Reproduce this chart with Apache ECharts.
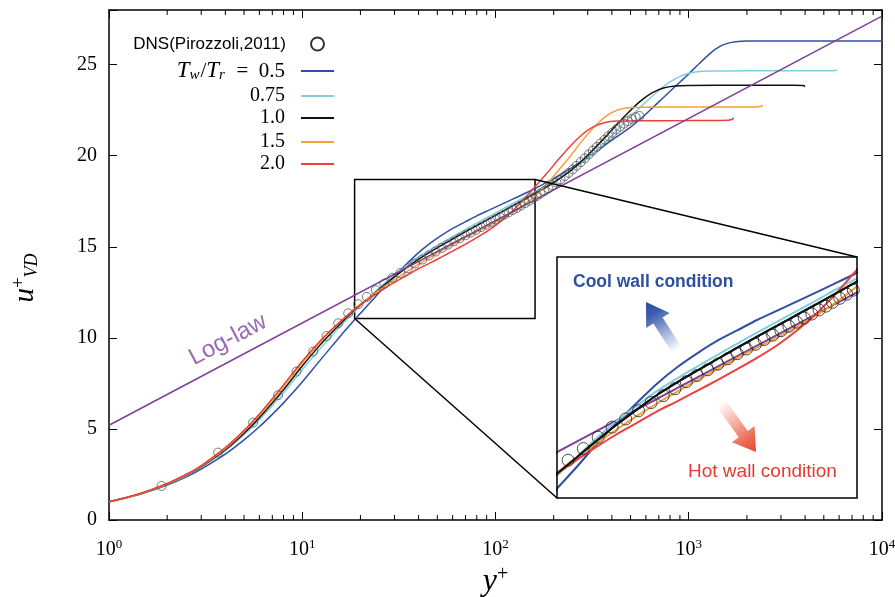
<!DOCTYPE html>
<html><head><meta charset="utf-8">
<script src="https://cdn.jsdelivr.net/npm/echarts@6/dist/echarts.min.js"></script>
<style>html,body{margin:0;padding:0;background:#fff;}#c{width:895px;height:597px;}</style>
</head><body><div id="c"></div>
<script>
// ---------------- data ----------------
const xTickExponents = [0, 1, 2, 3, 4];
const yTickLabels = [0, 5, 10, 15, 20, 25];
const minorTickValues = [2,3,4,5,6,7,8,9,20,30,40,50,60,70,80,90,200,300,400,500,600,700,800,900,2000,3000,4000,5000,6000,7000,8000,9000];

const dnsData = [[1.87,1.87],[3.67,3.7],[5.57,5.35],[7.5,6.85],[9.34,8.15],[11.39,9.25],[13.36,10.1],[15.35,10.8],[17.29,11.35],[19.48,11.85],[21.6,12.25],[24.0,12.62],[26.6,12.98],[29.3,13.3],[32.2,13.56],[35.2,13.82],[38.4,14.08],[41.8,14.3],[45.3,14.52],[49.0,14.74],[52.8,14.94],[56.8,15.12],[61.0,15.3],[65.3,15.47],[69.8,15.63],[74.4,15.78],[79.2,15.93],[84.1,16.08],[89.2,16.22],[94.4,16.36],[99.8,16.5],[105.3,16.63],[111,16.76],[117,16.89],[123,17.02],[129,17.14],[135,17.26],[142,17.39],[149,17.52],[156,17.65],[163,17.78],[171,17.92],[179,18.06],[188,18.21],[197,18.37],[207,18.53],[217,18.7],[228,18.88],[239,19.06],[251,19.25],[263,19.45],[276,19.65],[290,19.86],[304,20.07],[319,20.28],[334,20.48],[350,20.68],[367,20.88],[384,21.07],[402,21.26],[421,21.44],[441,21.6],[462,21.76],[484,21.9],[507,22.02],[531,22.12],[556,22.18]];

const tw05 = [[1,1],[1.25,1.23],[1.5,1.46],[2,1.92],[2.5,2.36],[3,2.8],[4,3.62],[5,4.4],[6,5.12],[7,5.8],[8,6.43],[10,7.58],[12,8.6],[14,9.45],[16,10.18],[18,10.8],[20,11.35],[23,12.05],[26,12.7],[30,13.4],[35,14.1],[40,14.68],[46,15.2],[53,15.65],[61,16.05],[70,16.38],[80,16.7],[92,17.0],[106,17.3],[122,17.6],[140,17.9],[160,18.2],[185,18.55],[212,18.9],[245,19.3],[280,19.7],[320,20.1],[370,20.6],[425,21.05],[490,21.5],[560,22.0],[645,22.6],[740,23.2],[850,23.8],[980,24.4],[1130,25.05],[1300,25.65],[1450,26.0],[1600,26.18],[1750,26.26],[2000,26.3],[10000,26.3]];

const tw075 = [[1,1],[1.25,1.24],[1.5,1.48],[2,1.96],[2.5,2.43],[3,2.89],[4,3.8],[5,4.68],[6,5.5],[7,6.27],[8,6.98],[10,8.25],[12,9.25],[14,10.05],[16,10.72],[18,11.28],[20,11.76],[23,12.36],[26,12.9],[30,13.46],[35,14.0],[40,14.45],[46,14.85],[53,15.23],[61,15.6],[70,15.96],[80,16.3],[92,16.65],[106,17.0],[122,17.35],[140,17.7],[160,18.02],[185,18.38],[212,18.75],[245,19.18],[280,19.62],[320,20.1],[370,20.72],[425,21.4],[490,22.05],[560,22.65],[645,23.25],[740,23.8],[850,24.22],[980,24.5],[1130,24.62],[1300,24.65],[2000,24.66],[4000,24.66],[5600,24.66],[5850,24.72]];

const tw10 = [[1,1],[1.25,1.25],[1.5,1.49],[2,1.98],[2.5,2.46],[3,2.93],[4,3.86],[5,4.77],[6,5.62],[7,6.42],[8,7.15],[10,8.45],[12,9.45],[14,10.22],[16,10.85],[18,11.38],[20,11.82],[23,12.35],[26,12.82],[30,13.35],[35,13.88],[40,14.32],[46,14.72],[53,15.1],[61,15.47],[70,15.83],[80,16.17],[92,16.52],[106,16.88],[122,17.23],[140,17.58],[160,17.92],[185,18.3],[212,18.7],[245,19.18],[280,19.72],[320,20.32],[370,21.02],[425,21.72],[490,22.4],[560,22.98],[645,23.45],[740,23.72],[850,23.83],[1000,23.86],[2000,23.87],[3500,23.87],[3900,23.85],[4000,23.8]];

const tw15 = [[1,1],[1.25,1.25],[1.5,1.5],[2,1.99],[2.5,2.48],[3,2.96],[4,3.92],[5,4.86],[6,5.75],[7,6.58],[8,7.32],[10,8.62],[12,9.6],[14,10.35],[16,10.95],[18,11.44],[20,11.85],[23,12.35],[26,12.75],[30,13.2],[35,13.67],[40,14.05],[46,14.43],[53,14.8],[61,15.15],[70,15.5],[80,15.82],[92,16.15],[106,16.5],[122,16.88],[140,17.3],[160,17.78],[185,18.45],[212,19.2],[245,20.0],[280,20.8],[320,21.52],[370,22.15],[425,22.5],[490,22.63],[560,22.66],[1000,22.67],[2000,22.67],[2350,22.7],[2410,22.78]];

const tw20 = [[1,1],[1.25,1.26],[1.5,1.51],[2,2.01],[2.5,2.5],[3,2.99],[4,3.97],[5,4.92],[6,5.82],[7,6.66],[8,7.42],[10,8.72],[12,9.68],[14,10.4],[16,10.97],[18,11.43],[20,11.82],[23,12.27],[26,12.64],[30,13.05],[35,13.45],[40,13.8],[46,14.12],[53,14.46],[61,14.8],[70,15.15],[80,15.5],[92,15.9],[106,16.38],[122,16.95],[140,17.6],[160,18.3],[185,19.05],[212,19.8],[245,20.55],[280,21.15],[320,21.58],[370,21.82],[425,21.9],[560,21.92],[1000,21.93],[1600,21.95],[1680,22.0],[1710,22.08]];

const logLaw = [[1,5.2],[10000,27.66]];

const zoomBox = [[18.66, 18.69], [160.2, 11.06]];
const insetXRange = [20, 160];
const insetYRange = [11.05, 18.7];

// ---------------- styles ----------------
const C = {b:'#2f4fa6', c:'#7ecfe0', k:'#111111', o:'#f5a136', r:'#ee3f3c', p:'#7d3f9a'};
const SERIF = 'Liberation Serif';
const SANS = 'Liberation Sans';
const MAIN = {left:109, top:10, right:13, bottom:77};
const INSET = {left:557, top:257, width:300, height:241};

const chart = echarts.init(document.getElementById('c'), null, {renderer:'canvas'});

function axisBase(pos) {
  return {
    axisLine:{show:true, onZero:false, lineStyle:{color:'#000', width:1.5}},
    axisTick:{show:true, inside:true, length:8, lineStyle:{color:'#000', width:1}},
    splitLine:{show:false},
    position: pos
  };
}
const xLabel = {
  show:true, margin:18, color:'#000',
  formatter: v => { const e = Math.round(Math.log10(v)); return xTickExponents.includes(e) ? '{b|10}{e|' + e + '}' : ''; },
  rich:{ b:{fontFamily:SERIF, fontSize:20, color:'#000'}, e:{fontFamily:SERIF, fontSize:13, color:'#000', verticalAlign:'top', padding:[0,0,10,0]} }
};
const yLabel = {
  show:true, margin:12, color:'#000', fontFamily:SERIF, fontSize:20,
  formatter: v => yTickLabels.includes(v) ? String(v) : ''
};

function mainLine(name, data, color) {
  return {type:'line', name, data, xAxisIndex:0, yAxisIndex:0, showSymbol:false, symbol:'none',
    smooth:0.25, lineStyle:{color, width:1.5}, itemStyle:{color}, z:2, silent:true};
}
function insetLine(name, data, color) {
  return {type:'line', name, data, xAxisIndex:2, yAxisIndex:2, showSymbol:false, symbol:'none',
    smooth:0.25, lineStyle:{color, width:2}, itemStyle:{color}, z:10, clip:true, silent:true};
}

const lineNames = ['Tw/Tr = 0.5','0.75','1.0','1.5','2.0'];
const lineData = [tw05, tw075, tw10, tw15, tw20];
const lineColors = [C.b, C.c, C.k, C.o, C.r];

const series = [];
series.push({type:'scatter', name:'DNS(Pirozzoli,2011)', data:dnsData, xAxisIndex:0, yAxisIndex:0, symbol:'circle', symbolSize:9,
  itemStyle:{color:'rgba(0,0,0,0)', borderColor:'#555', borderWidth:1}, z:3, silent:true});
lineNames.forEach((n,i)=>series.push(mainLine(n, lineData[i], lineColors[i])));
series.push(Object.assign(mainLine('Log-law', logLaw, C.p), {smooth:false,
  markArea:{silent:true, itemStyle:{color:'rgba(0,0,0,0)', borderColor:'#000', borderWidth:1.5},
    data:[[{coord:zoomBox[0]},{coord:zoomBox[1]}]]}}));
series.push({type:'custom', name:'minorTicks', xAxisIndex:0, yAxisIndex:0, silent:true, clip:false, z:4,
  data: minorTickValues.map(v=>[v,0]),
  renderItem:(params, api)=>{
    const v = api.value(0);
    const b = api.coord([v, 0]); const t = api.coord([v, 28]);
    return {type:'group', children:[
      {type:'line', shape:{x1:b[0], y1:b[1], x2:b[0], y2:b[1]-5}, style:{stroke:'#000', lineWidth:1}},
      {type:'line', shape:{x1:t[0], y1:t[1], x2:t[0], y2:t[1]+5}, style:{stroke:'#000', lineWidth:1}}
    ]};
  }});
// inset
series.push(insetLine('Log-law', logLaw, C.p));
lineNames.forEach((n,i)=>series.push(insetLine(n, lineData[i], lineColors[i])));
series.push({type:'scatter', name:'DNS(Pirozzoli,2011)', data:dnsData, xAxisIndex:2, yAxisIndex:2, symbol:'circle', symbolSize:12,
  itemStyle:{color:'rgba(0,0,0,0)', borderColor:'#222', borderWidth:1}, z:11, clip:true, silent:true});
series.push(Object.assign(insetLine('1.0', tw10, C.k), {z:12}));

function legendFor(name, top, right, iw, ih, padRight, fmt, ts, icon) {
  return {show:true, orient:'vertical', align:'right', right, top, padding:0, itemWidth:iw, itemHeight:ih,
    selectedMode:false, data:[icon ? {name, icon} : name], formatter: fmt || (n=>n),
    textStyle:Object.assign({padding:[0,padRight,0,0], color:'#000'}, ts||{})};
}
const numStyle = {fontFamily:SERIF, fontSize:20, lineHeight:20};
const legends = [
  Object.assign(legendFor('DNS(Pirozzoli,2011)', 34, 570, 13, 13, 20, null, {fontFamily:SANS, fontSize:17, lineHeight:20}),
    {data:[{name:'DNS(Pirozzoli,2011)', icon:'circle', itemStyle:{color:'rgba(0,0,0,0)', borderColor:'#000', borderWidth:2}}]}),
  legendFor('Tw/Tr = 0.5', 59, 561, 33, 2, 11, ()=>'{i|T}{s|w}{n|/}{i|T}{s|r}{n|  =  0.5}',
    {fontFamily:SERIF, fontSize:21, lineHeight:24, rich:{i:{fontFamily:SERIF, fontStyle:'italic', fontSize:23, color:'#000'},
      s:{fontFamily:SERIF, fontStyle:'italic', fontSize:15, color:'#000', verticalAlign:'bottom', padding:[6,1,0,0]},
      n:{fontFamily:SERIF, fontSize:21, color:'#000'}}}, 'rect'),
  legendFor('0.75', 86, 561, 33, 2, 11, null, numStyle, 'rect'),
  legendFor('1.0', 108, 561, 33, 2, 11, null, numStyle, 'rect'),
  legendFor('1.5', 132, 561, 33, 2, 11, null, numStyle, 'rect'),
  legendFor('2.0', 154, 561, 33, 2, 11, null, numStyle, 'rect')
];

const option = {
  animation:false,
  backgroundColor:'#fff',
  grid:[
    Object.assign({show:false, containLabel:false, outerBoundsMode:'none'}, MAIN),
    Object.assign({show:false, containLabel:false, outerBoundsMode:'none'}, INSET)
  ],
  legend: legends,
  xAxis:[
    Object.assign(axisBase('bottom'), {type:'log', logBase:10, min:1, max:10000, gridIndex:0, axisLabel:xLabel,
      name:'{i|y}{s|+}', nameLocation:'middle', nameGap:39,
      nameTextStyle:{rich:{i:{fontFamily:SERIF, fontStyle:'italic', fontSize:32, color:'#000'},
        s:{fontFamily:SERIF, fontSize:20, color:'#000', verticalAlign:'top', padding:[0,0,14,0]}}}}),
    Object.assign(axisBase('top'), {type:'log', logBase:10, min:1, max:10000, gridIndex:0, axisLabel:{show:false}}),
    {type:'log', logBase:10, min:insetXRange[0], max:insetXRange[1], gridIndex:1, show:false}
  ],
  yAxis:[
    Object.assign(axisBase('left'), {type:'value', min:0, max:28, interval:5, gridIndex:0, axisLabel:yLabel,
      name:'{i|u}{s|+}{d|VD}', nameLocation:'middle', nameGap:68, nameRotate:90,
      nameTextStyle:{padding:[0,26,0,0], rich:{i:{fontFamily:SERIF, fontStyle:'italic', fontSize:29, color:'#000'},
        s:{fontFamily:SERIF, fontSize:19, color:'#000', verticalAlign:'top', padding:[0,0,12,0]},
        d:{fontFamily:SERIF, fontStyle:'italic', fontSize:18, color:'#000', verticalAlign:'bottom', padding:[10,0,0,0]}}}}),
    Object.assign(axisBase('right'), {type:'value', min:0, max:28, interval:5, gridIndex:0, axisLabel:{show:false}}),
    {type:'value', min:insetYRange[0], max:insetYRange[1], gridIndex:1, show:false}
  ],
  series
};
chart.setOption(option);

const pTR = chart.convertToPixel({xAxisIndex:0, yAxisIndex:0}, [zoomBox[1][0], zoomBox[0][1]]);
const pBL = chart.convertToPixel({xAxisIndex:0, yAxisIndex:0}, [zoomBox[0][0], zoomBox[1][1]]);
const qTR = chart.convertToPixel({xAxisIndex:2, yAxisIndex:2}, [insetXRange[1], insetYRange[1]]);
const qBL = chart.convertToPixel({xAxisIndex:2, yAxisIndex:2}, [insetXRange[0], insetYRange[0]]);

function arrowPoints(tail, head, sw, hw, hl) {
  const dx = head[0]-tail[0], dy = head[1]-tail[1]; const L = Math.hypot(dx,dy);
  const ux = dx/L, uy = dy/L, nx = -uy, ny = ux;
  const bx = head[0]-ux*hl, by = head[1]-uy*hl;
  return [[tail[0]+nx*sw/2, tail[1]+ny*sw/2],[bx+nx*sw/2, by+ny*sw/2],[bx+nx*hw/2, by+ny*hw/2],head,
          [bx-nx*hw/2, by-ny*hw/2],[bx-nx*sw/2, by-ny*sw/2],[tail[0]-nx*sw/2, tail[1]-ny*sw/2]];
}
const blueTail = [677, 350], blueHead = [646, 302];
const redTail = [721, 403], redHead = [756, 452];

chart.setOption({graphic:[
  {type:'rect', z:3, silent:true, shape:{x:INSET.left, y:INSET.top, width:INSET.width, height:INSET.height}, style:{fill:'#fff'}},
  {type:'rect', z:20, silent:true, shape:{x:INSET.left, y:INSET.top, width:INSET.width, height:INSET.height}, style:{fill:'none', stroke:'#000', lineWidth:1.5}},
  {type:'line', z:20, silent:true, shape:{x1:pTR[0], y1:pTR[1], x2:qTR[0], y2:qTR[1]}, style:{stroke:'#000', lineWidth:1.5}},
  {type:'line', z:20, silent:true, shape:{x1:pBL[0], y1:pBL[1], x2:qBL[0], y2:qBL[1]}, style:{stroke:'#000', lineWidth:1.5}},
  {type:'polygon', z:21, silent:true, shape:{points:arrowPoints(blueTail, blueHead, 11, 28, 22)},
    style:{fill:{type:'linear', x:blueTail[0], y:blueTail[1], x2:blueHead[0], y2:blueHead[1], global:true,
      colorStops:[{offset:0, color:'rgba(255,255,255,1)'},{offset:0.75, color:'#3c5fb0'},{offset:1, color:'#2a4a9c'}]}}},
  {type:'polygon', z:21, silent:true, shape:{points:arrowPoints(redTail, redHead, 11, 28, 22)},
    style:{fill:{type:'linear', x:redTail[0], y:redTail[1], x2:redHead[0], y2:redHead[1], global:true,
      colorStops:[{offset:0, color:'rgba(255,255,255,1)'},{offset:0.75, color:'#ec6a55'},{offset:1, color:'#e6452f'}]}}},
  {type:'text', z:22, silent:true, x:573, y:282, style:{text:'Cool wall condition', fill:'#2d4fa3', fontFamily:SANS, fontWeight:'bold', fontSize:17.5, verticalAlign:'middle', align:'left'}},
  {type:'text', z:22, silent:true, x:688, y:472, style:{text:'Hot wall condition', fill:'#e63a30', fontFamily:SANS, fontSize:19, verticalAlign:'middle', align:'left'}},
  {type:'text', z:22, silent:true, x:228, y:340, rotation:28*Math.PI/180, style:{text:'Log-law', fill:'#9a6cb6', fontFamily:SANS, fontSize:24, verticalAlign:'middle', align:'center'}}
]});
</script></body></html>
